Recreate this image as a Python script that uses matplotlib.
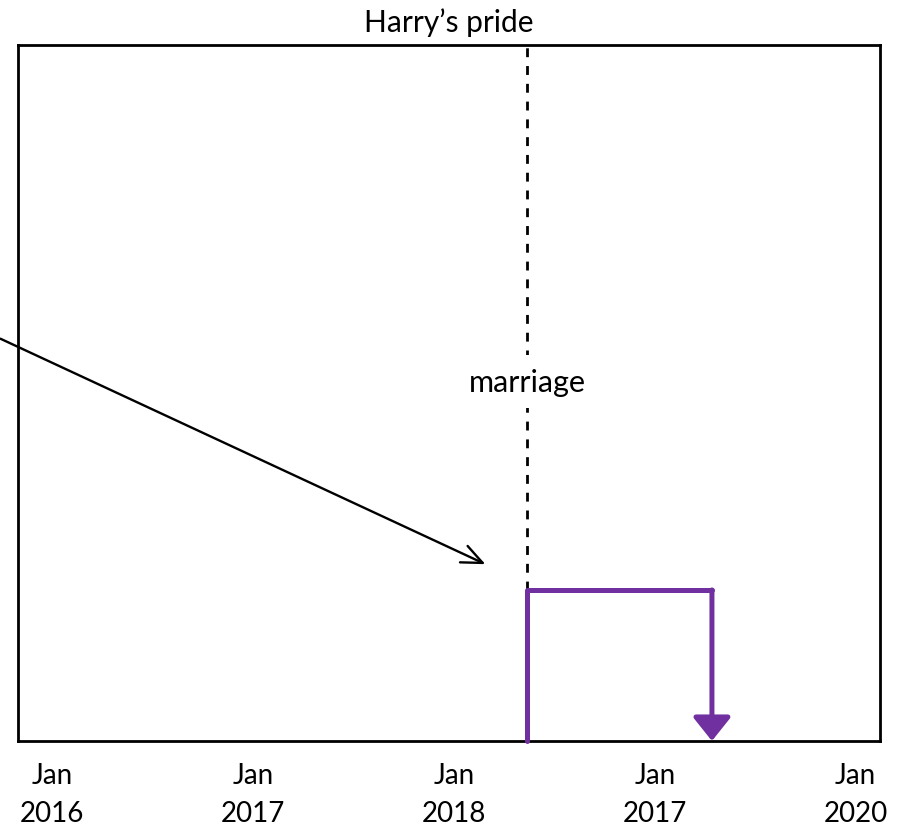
import matplotlib
matplotlib.use("Agg")
import matplotlib.pyplot as plt
import matplotlib.dates as mdates
import datetime as dt

plt.rcParams['font.family'] = ['Lato', 'DejaVu Sans']

# ---- data ----
title = "Harry\u2019s pride"
tick_dates = [dt.date(2016, 1, 1), dt.date(2017, 1, 1), dt.date(2018, 1, 1),
              dt.date(2019, 1, 1), dt.date(2020, 1, 1)]
tick_labels = ["Jan\n2016", "Jan\n2017", "Jan\n2018", "Jan\n2017", "Jan\n2020"]
x_range = [dt.date(2015, 10, 31), dt.date(2020, 2, 15)]
y_range = [0, 100]
marriage_date = dt.date(2018, 5, 14)
marriage_label = "marriage"
marriage_label_y = 51.6
pride_end_date = dt.date(2019, 4, 15)
pride_level = 21.7
arrow_start = (dt.date(2015, 9, 29), 57.8)
arrow_end = (dt.date(2018, 2, 27), 25.4)

purple = "#7030A0"

fig = plt.figure(figsize=(9, 8.29), dpi=100)
ax = fig.add_axes([0.02, 0.105, 0.958, 0.8395])
ax.set_xlim(mdates.date2num(x_range[0]), mdates.date2num(x_range[1]))
ax.set_ylim(*y_range)

m = mdates.date2num(marriage_date)
e = mdates.date2num(pride_end_date)

# dashed marriage line
ax.plot([m, m], [pride_level, y_range[1]], color='black', lw=2,
        linestyle=(0, (3.2, 3.2)), zorder=2)
ax.text(m, marriage_label_y, marriage_label, ha='center', va='center',
        fontsize=22, zorder=3,
        bbox=dict(facecolor='white', edgecolor='none', pad=9))

# pride line
ax.plot([m, m, e], [0, pride_level, pride_level],
        color=purple, lw=3.6, solid_joinstyle='round', solid_capstyle='round',
        zorder=4, clip_on=False)
ax.annotate('', xy=(e, 0), xytext=(e, pride_level),
            arrowprops=dict(arrowstyle='-|>,head_length=1.44,head_width=1.15',
                            color=purple, lw=3.6, shrinkA=0, shrinkB=0,
                            mutation_scale=10, capstyle='round'),
            annotation_clip=False, zorder=4)

# black arrow
ax.annotate('', xy=(mdates.date2num(arrow_end[0]), arrow_end[1]),
            xytext=(mdates.date2num(arrow_start[0]), arrow_start[1]),
            arrowprops=dict(arrowstyle='->,head_length=1.5,head_width=0.65',
                            color='black', lw=1.7, shrinkA=0, shrinkB=0,
                            mutation_scale=10),
            annotation_clip=False, zorder=5)

ax.set_xticks([mdates.date2num(d) for d in tick_dates])
ax.set_xticklabels(tick_labels, fontsize=20, linespacing=1.6)
ax.tick_params(axis='x', length=0, pad=15)
ax.set_yticks([])
for s in ax.spines.values():
    s.set_linewidth(2)
ax.set_title(title, fontsize=21.5, pad=10)

fig.savefig("out.png", dpi=100)
